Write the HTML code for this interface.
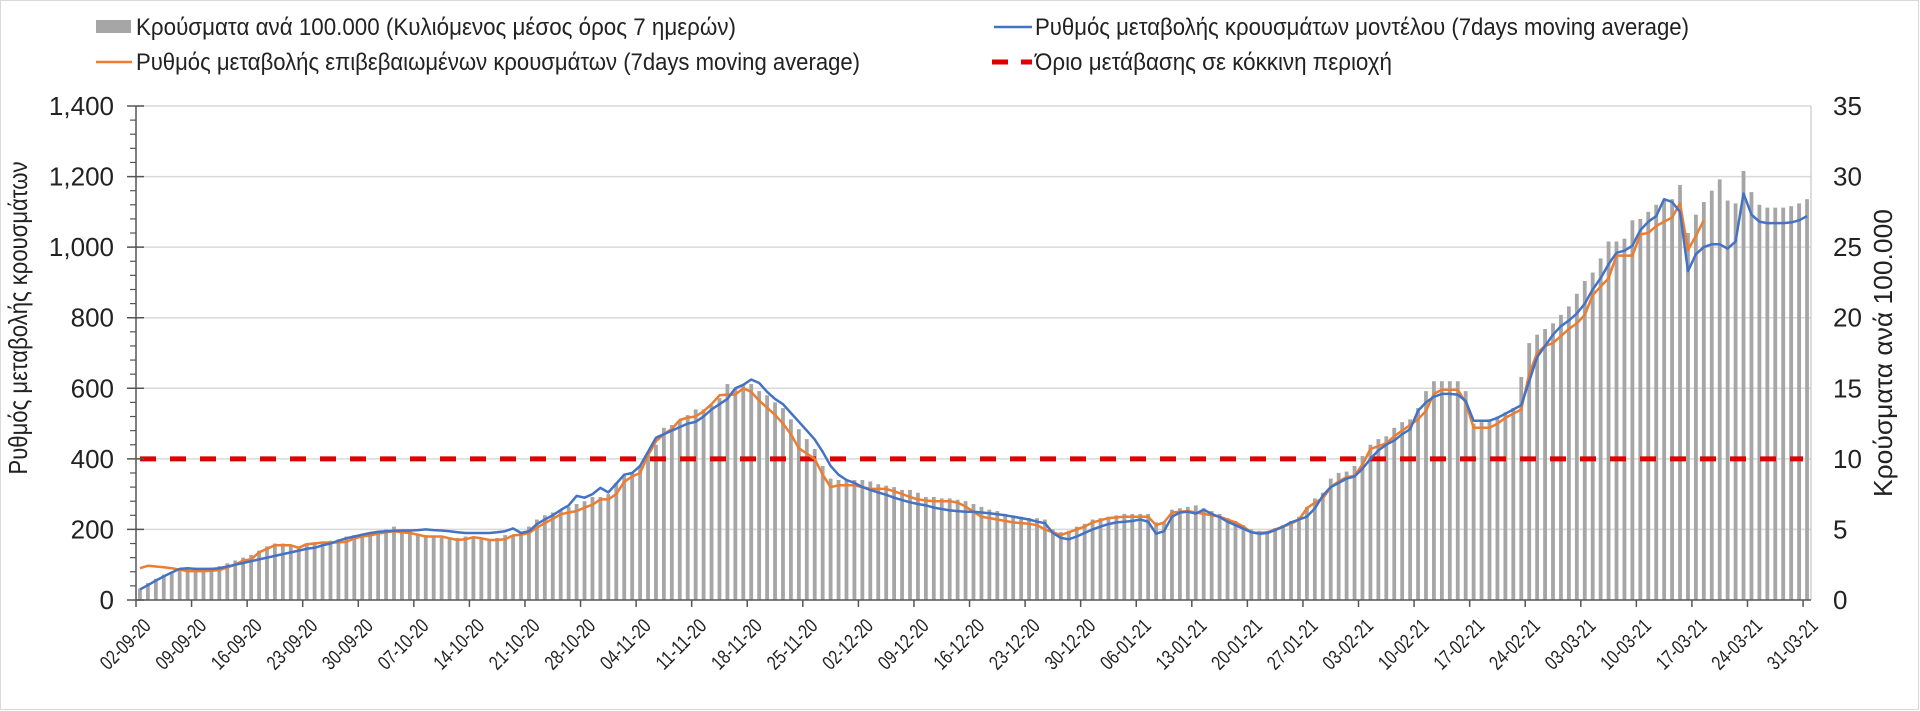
<!DOCTYPE html>
<html><head><meta charset="utf-8"><style>
html,body{margin:0;padding:0;background:#fff;}
svg{display:block;font-family:"Liberation Sans","DejaVu Sans",sans-serif;}
</style></head><body>
<svg id="chart" width="1920" height="711" viewBox="0 0 1920 711" xmlns="http://www.w3.org/2000/svg">
<rect x="0.5" y="0.5" width="1918" height="709" fill="#fff" stroke="#d9d9d9"/>
<g id="grid"></g>
<g id="bars"></g>
<line id="thr" stroke="#e00000" stroke-width="5" stroke-dasharray="16,14"/>
<path id="orange" fill="none" stroke="#ed7d31" stroke-width="2.5" stroke-linejoin="round"/>
<path id="blue" fill="none" stroke="#4472c4" stroke-width="2.5" stroke-linejoin="round"/>
<g id="axes"></g>
<g font-size="24" fill="#222">
  <rect x="96" y="20" width="35" height="13" fill="#a6a6a6"/>
  <text x="136" y="35" textLength="600" lengthAdjust="spacingAndGlyphs">Κρούσματα ανά 100.000 (Κυλιόμενος μέσος όρος 7 ημερών)</text>
  <line x1="96" y1="62" x2="132" y2="62" stroke="#ed7d31" stroke-width="2.5"/>
  <text x="136" y="70" textLength="724" lengthAdjust="spacingAndGlyphs">Ρυθμός μεταβολής επιβεβαιωμένων κρουσμάτων (7days moving average)</text>
  <line x1="994" y1="27" x2="1032" y2="27" stroke="#4472c4" stroke-width="2.5"/>
  <text x="1035" y="35" textLength="654" lengthAdjust="spacingAndGlyphs">Ρυθμός μεταβολής κρουσμάτων μοντέλου (7days moving average)</text>
  <line x1="992" y1="62" x2="1032" y2="62" stroke="#e00000" stroke-width="5" stroke-dasharray="16,13"/>
  <text x="1035" y="70" textLength="357" lengthAdjust="spacingAndGlyphs">Όριο μετάβασης σε κόκκινη περιοχή</text>
</g>
<text transform="translate(27,318) rotate(-90)" text-anchor="middle" font-size="26" fill="#222" textLength="313" lengthAdjust="spacingAndGlyphs">Ρυθμός μεταβολής κρουσμάτων</text>
<text transform="translate(1892,353) rotate(-90)" text-anchor="middle" font-size="26" fill="#222" textLength="288" lengthAdjust="spacingAndGlyphs">Κρούσματα ανά 100.000</text>
</svg>
<script>
const dateLabels = ["02-09-20","09-09-20","16-09-20","23-09-20","30-09-20","07-10-20","14-10-20","21-10-20","28-10-20","04-11-20","11-11-20","18-11-20","25-11-20","02-12-20","09-12-20","16-12-20","23-12-20","30-12-20","06-01-21","13-01-21","20-01-21","27-01-21","03-02-21","10-02-21","17-02-21","24-02-21","03-03-21","10-03-21","17-03-21","24-03-21","31-03-21"];
const leftTicks = [0,200,400,600,800,1000,1200,1400];
const leftTickLabels = ["0","200","400","600","800","1,000","1,200","1,400"];
const rightTicks = [0,5,10,15,20,25,30,35];
const threshold = 400;
const casesPer100k = [
0.8,1.2,1.5,1.8,2.0,2.2,2.3,2.2,2.2,2.3,
2.4,2.6,2.8,3.0,3.2,3.5,3.8,4.0,4.0,3.9,
3.8,4.0,4.1,4.1,4.2,4.3,4.5,4.6,4.7,4.8,
4.9,5.0,5.2,5.0,4.9,4.7,4.6,4.5,4.4,4.3,
4.4,4.5,4.4,4.4,4.3,4.4,4.6,4.6,4.8,5.2,
5.7,6.0,6.2,6.4,6.6,6.8,7.0,7.3,7.3,7.5,
8.3,8.8,9.0,9.5,10.4,11.0,12.2,12.4,12.7,13.1,
13.5,13.5,13.8,14.3,15.3,15.0,15.2,15.3,14.8,14.5,
14.0,13.6,12.8,12.1,11.4,10.7,9.5,8.6,8.5,8.5,
8.5,8.5,8.4,8.2,8.1,8.0,7.8,7.8,7.6,7.3,
7.3,7.2,7.2,7.1,7.0,6.8,6.6,6.4,6.3,6.1,
6.0,5.9,5.8,5.8,5.7,5.0,4.8,4.9,5.2,5.4,
5.7,5.8,5.9,6.0,6.1,6.1,6.1,6.1,5.5,5.5,
6.4,6.5,6.6,6.7,6.5,6.3,6.1,5.8,5.6,5.3,
5.0,4.9,4.9,5.1,5.3,5.6,5.9,6.6,7.2,7.6,
8.6,9.0,9.1,9.5,10.2,11.0,11.4,11.6,12.2,12.6,
12.8,13.6,14.8,15.5,15.5,15.5,15.5,14.8,12.5,12.6,
12.8,13.0,13.3,13.6,15.8,18.2,18.8,19.2,19.6,20.2,
20.8,21.7,22.6,23.2,24.2,25.4,25.4,25.6,26.9,27.0,
27.5,28.0,28.3,28.4,29.4,26.0,27.3,28.2,29.0,29.8,
28.3,28.1,30.4,28.9,28.0,27.8,27.8,27.8,27.9,28.1,28.4];
const modelRate = [
30,42,55,67,78,88,90,88,88,88,
90,95,100,105,110,115,120,125,130,135,
140,145,148,155,160,168,175,180,185,190,
193,195,196,197,197,198,200,198,197,195,
192,190,190,190,190,192,195,203,190,195,
215,228,240,255,268,295,290,300,318,305,
330,355,360,380,420,460,470,480,490,500,
505,520,540,555,570,600,610,625,615,590,
570,555,530,505,480,455,420,380,355,340,
332,320,312,305,298,290,283,277,272,268,
262,258,254,252,250,250,248,246,243,240,
236,232,228,222,218,190,176,172,180,190,
200,208,215,220,222,224,228,222,188,195,
236,248,250,245,256,244,235,222,212,202,
192,188,190,198,208,220,228,236,260,296,
320,332,344,350,372,400,424,440,452,470,
484,536,560,576,584,584,582,564,508,508,
508,516,528,540,552,620,688,720,752,776,
792,812,840,880,912,952,984,990,1004,1048,
1072,1088,1136,1128,1100,932,980,1000,1008,1008,
996,1016,1152,1092,1072,1068,1068,1068,1070,1076,1088];
const confirmedRate = [
90,97,95,93,90,86,82,82,82,83,
85,92,100,112,115,135,145,155,155,155,
148,158,160,163,163,163,165,175,180,183,
188,192,195,192,190,185,180,180,180,175,
170,172,178,175,170,170,172,183,185,190,
205,218,230,243,248,252,262,270,285,285,
300,335,350,360,410,450,470,485,510,517,
520,535,555,580,582,582,600,590,565,545,
525,500,470,430,415,400,355,320,325,325,
325,320,315,315,315,308,300,292,285,282,
280,280,280,276,265,250,236,232,228,224,
220,218,216,212,200,192,184,192,200,208,
220,226,232,234,236,236,236,236,212,220,
248,250,252,248,244,240,236,228,220,208,
192,190,192,200,208,216,228,260,276,288,
320,336,348,352,384,428,436,444,464,480,
496,512,536,584,596,596,596,560,488,488,
488,500,516,528,540,640,700,720,728,748,
768,784,808,864,888,912,976,976,976,1036,
1040,1060,1072,1084,1124,992,1032,1076];

const NS="http://www.w3.org/2000/svg";
const X0=136, X1=1811, Y0=600, YT=106;
const N=211, step=(X1-X0)/N;
const xC=i=>X0+(i+0.5)*step;
const yL=v=>Y0-(v/1400)*(Y0-YT);
const yR=v=>Y0-(v/35)*(Y0-YT);
function mk(tag,attrs,parent){const e=document.createElementNS(NS,tag);for(const k in attrs)e.setAttribute(k,attrs[k]);parent.appendChild(e);return e;}
const grid=document.getElementById('grid'), axes=document.getElementById('axes'), bars=document.getElementById('bars');
leftTicks.forEach((v,k)=>{
  if(v>0){const g=mk('line',{x1:X0,x2:X1,y1:yL(v),y2:yL(v),stroke:'#d9d9d9','stroke-width':1.5},grid);
  
  }
  const t=mk('text',{x:114,y:yL(v)+9,'text-anchor':'end','font-size':26,fill:'#222'},axes);
  t.textContent=leftTickLabels[k];
  
  
  const tk=mk('line',{x1:X0-9,x2:X0+8,y1:yL(v),y2:yL(v),stroke:'#555','stroke-width':1.5},axes);
  
  
});
for(let v=0;v<=1400;v+=40){if(v%200===0)continue;
  const m=mk('line',{x1:X0-6,x2:X0,y1:yL(v),y2:yL(v),stroke:'#555','stroke-width':1.2},axes);
  
  }
rightTicks.forEach(v=>{
  const t=mk('text',{x:1833,y:yR(v)+9,'font-size':26,fill:'#222'},axes);
  t.textContent=String(v);
  
  
});
const la=mk('line',{x1:X0,x2:X0,y1:YT,y2:Y0,stroke:'#555','stroke-width':1.5},axes);


const ra=mk('line',{x1:X1,x2:X1,y1:YT,y2:Y0,stroke:'#bbb','stroke-width':1},axes);


const xa=mk('line',{x1:X0,x2:X1,y1:Y0,y2:Y0,stroke:'#555','stroke-width':1.5},axes);


dateLabels.forEach((d,k)=>{
  const x=X0+k*7*step;
  const tk=mk('line',{x1:x,x2:x,y1:Y0,y2:Y0+7,stroke:'#555','stroke-width':1.5},axes);
  
  
  const t=mk('text',{transform:`translate(${x+16},${Y0+27}) rotate(-45)`,'text-anchor':'end','font-size':20,fill:'#222',textLength:62,lengthAdjust:'spacingAndGlyphs'},axes);
  t.textContent=d;
  
  
});
casesPer100k.forEach((v,i)=>{
  const r=mk('rect',{x:xC(i)-1.9,width:3.8,y:yR(v),height:Y0-yR(v),fill:'#a6a6a6'},bars);
  
  
});
function path(arr){return arr.map((v,i)=>(i?'L':'M')+xC(i).toFixed(1)+','+yL(v).toFixed(1)).join('');}
document.getElementById('blue').setAttribute('d',path(modelRate));
document.getElementById('orange').setAttribute('d',path(confirmedRate));
const thr=document.getElementById('thr');
thr.setAttribute('x1',X0+4);thr.setAttribute('x2',X1-8);
thr.setAttribute('y1',yL(threshold));thr.setAttribute('y2',yL(threshold));
</script>
</body></html>
